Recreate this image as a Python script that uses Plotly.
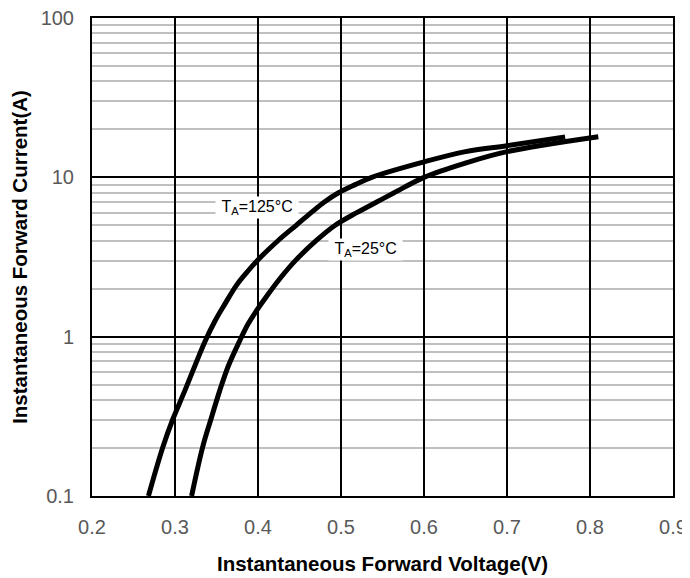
import math
import plotly.graph_objects as go

# Forward characteristics
v_125 = [0.268, 0.285, 0.297, 0.312, 0.336, 0.348, 0.360, 0.374, 0.387, 0.399, 0.424, 0.446,
         0.464, 0.480, 0.497, 0.517, 0.537, 0.600, 0.650, 0.700, 0.770]
i_125 = [0.1, 0.2, 0.3, 0.46, 0.93, 1.25, 1.6, 2.1, 2.55, 3.0, 4.0, 5.0,
         6.0, 7.0, 8.0, 9.0, 10.0, 12.5, 14.5, 15.8, 17.9]

v_25 = [0.320, 0.333, 0.343, 0.354, 0.364, 0.377, 0.388, 0.398, 0.410, 0.426, 0.445, 0.470,
        0.493, 0.519, 0.543, 0.564, 0.600, 0.650, 0.700, 0.810]
i_25 = [0.1, 0.2, 0.3, 0.46, 0.65, 0.92, 1.2, 1.45, 1.78, 2.3, 3.0, 4.0,
        5.0, 6.0, 7.0, 8.0, 10.0, 12.3, 14.5, 18.0]

x_ticks = [0.2, 0.3, 0.4, 0.5, 0.6, 0.7, 0.8, 0.9]
y_ticks = [0.1, 1, 10, 100]
y_tick_text = ["0.1", "1", "10", "100"]

labels = ["T<sub>A</sub>=125°C", "T<sub>A</sub>=25°C"]
label_x = [0.399, 0.529]
label_y = [6.45, 3.5]

FONT = "Liberation Sans, Arial"

fig = go.Figure()
for v, i in [(v_125, i_125), (v_25, i_25)]:
    fig.add_trace(go.Scatter(x=v, y=i, mode="lines",
                             line=dict(color="black", width=5, shape="spline", smoothing=1.0),
                             showlegend=False, hoverinfo="skip"))

for t, lx, ly in zip(labels, label_x, label_y):
    fig.add_annotation(x=lx, y=math.log10(ly), yref="y", xref="x",
                       text="&nbsp;" + t + "&nbsp;", showarrow=False,
                       font=dict(family=FONT, size=16, color="black"),
                       bgcolor="white", borderpad=1)

fig.update_layout(
    width=690, height=578,
    margin=dict(l=84, r=25, t=10, b=90),
    paper_bgcolor="white", plot_bgcolor="white",
    xaxis=dict(range=[0.2, 0.9], tickvals=x_ticks, tickformat=".1f", automargin=False,
               ticklabeloverflow="allow",
               showgrid=True, gridcolor="black", gridwidth=1.5,
               showline=True, linecolor="black", linewidth=2, mirror=True,
               zeroline=False, ticks="", ticklabelstandoff=12,
               tickfont=dict(family=FONT, size=20, color="#595959"),
               title=dict(text="<b>Instantaneous Forward Voltage(V)</b>", standoff=20,
                          font=dict(family=FONT, size=20.5, color="black"))),
    yaxis=dict(type="log", range=[-1, 2], tickvals=y_ticks, ticktext=y_tick_text, automargin=False,
               ticklabeloverflow="allow",
               showgrid=True, gridcolor="black", gridwidth=1.5,
               showline=True, linecolor="black", linewidth=2, mirror=True,
               zeroline=False, ticks="", ticklabelstandoff=12,
               minor=dict(dtick="D1", showgrid=True, gridcolor="#c0c0c0", gridwidth=1.5, ticks=""),
               tickfont=dict(family=FONT, size=20, color="#595959"),
               title=dict(text="<b>Instantaneous Forward Current(A)</b>", standoff=14,
                          font=dict(family=FONT, size=20.5, color="black"))),
)

fig.write_html("out.html")
